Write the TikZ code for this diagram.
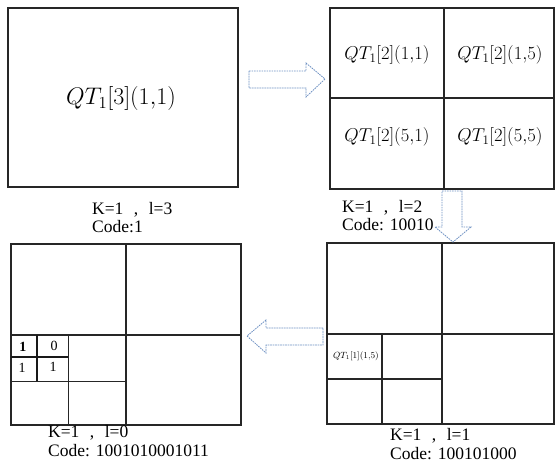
\RequirePackage{fix-cm}
\documentclass[tikz,border=0pt]{standalone}
\usepackage{fontspec}
\setmainfont{Liberation Serif}
\usetikzlibrary{positioning}
\definecolor{arrowblue}{RGB}{110,145,195}
\begin{document}
\begin{tikzpicture}[x=1pt,y=-1pt,
  grid/.style={line width=1.1pt,draw=black!85},
  blockarrow/.style={draw=arrowblue,dash pattern=on 1.6pt off 0.9pt,line width=0.8pt,fill=white},
  lbl/.style={anchor=west,inner sep=0pt,font=\fontsize{17.5}{20}\selectfont},
  cell/.style={inner sep=0pt,font=\fontsize{18.6}{21}\selectfont},
  digit/.style={inner sep=0pt,font=\fontsize{14}{16}\selectfont}]
\useasboundingbox (0,0) rectangle (555,465);
% level 3
\draw[grid] (8,8) rectangle (238,187);
\node[inner sep=0pt,font=\fontsize{24}{28}\selectfont] (qt3) at (121,99) {$QT_1[3](1{,}1)$};
\node[lbl] (k3) at (92,210) {K=1\hspace{0.6em},\hspace{0.6em}l=3};
\node[lbl] (c3) at (92,227) {Code:1};
% level 2
\draw[grid] (330,8) rectangle (554,189);
\draw[grid] (444,8) -- (444,189) (330,98) -- (554,98);
\node[cell] (q11) at (387,55) {$QT_1[2](1{,}1)$};
\node[cell] (q15) at (500,55) {$QT_1[2](1{,}5)$};
\node[cell] (q51) at (387,137) {$QT_1[2](5{,}1)$};
\node[cell] (q55) at (500,137) {$QT_1[2](5{,}5)$};
\node[lbl] (k2) at (342,208) {K=1\hspace{0.6em},\hspace{0.6em}l=2};
\node[lbl] (c2) at (342,225) {Code: 10010};
% level 1
\draw[grid] (327,243) rectangle (554,424);
\draw[grid] (442,243) -- (442,424) (327,334) -- (554,334);
\draw[grid] (382,334) -- (382,424) (327,379) -- (442,379);
\node[inner sep=0pt,font=\fontsize{9}{10}\selectfont] (q1) at (356,356) {$QT_1[1](1{,}5)$};
\node[lbl] (k1) at (390,436) {K=1\hspace{0.6em},\hspace{0.6em}l=1};
\node[lbl] (c1) at (390,454) {Code: 100101000};
% level 0
\draw[grid] (11,244) rectangle (241,425);
\draw[grid] (126,244) -- (126,425) (11,335) -- (241,335);
\draw[line width=0.8pt,black!85] (68,335) -- (68,425) (11,381) -- (126,381);
\draw[line width=1.3pt,black!90] (37,335) -- (37,381) (11,357) -- (68,357);
\node[digit] (d11) at (23,347) {\textbf{1}};
\node[digit] (d12) at (54,346) {0};
\node[digit] (d21) at (22,368) {1};
\node[digit] (d22) at (53,367) {1};
\node[lbl] (k0) at (48,433) {K=1\hspace{0.6em},\hspace{0.6em}l=0};
\node[lbl] (c0) at (48,451) {Code: 1001010001011};
% arrows
\draw[blockarrow] (249,71) -- (306,71) -- (306,63) -- (325,79) -- (306,97) -- (306,88) -- (249,88) -- cycle;
\draw[blockarrow] (442,191) -- (462,191) -- (462,227) -- (471,227) -- (453,242) -- (435,227) -- (442,227) -- cycle;
\draw[blockarrow] (323,328) -- (266,328) -- (266,320) -- (247,336) -- (266,353) -- (266,345) -- (323,345) -- cycle;
\end{tikzpicture}
\end{document}
